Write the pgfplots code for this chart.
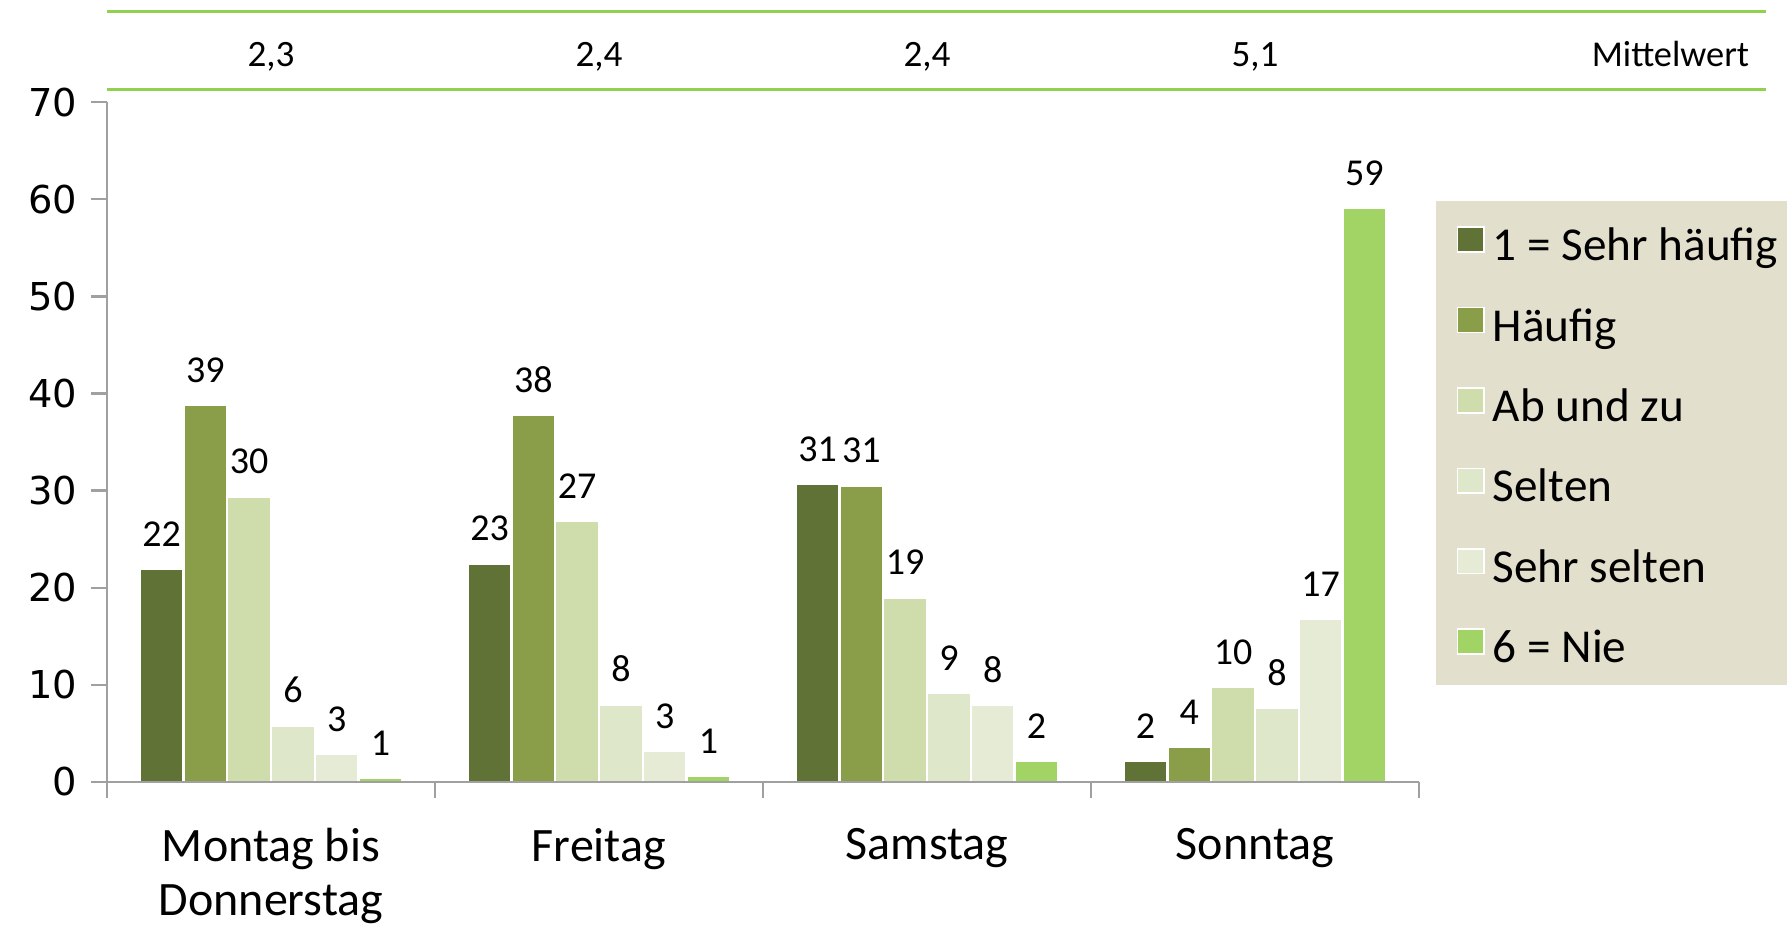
\documentclass[border=0pt]{standalone}
\usepackage{pgfplots}
\pgfplotsset{compat=1.18}
\usepackage{pgfplotstable}
\usepackage{fontspec}
\setmainfont{Carlito}
\newfontfamily\tickfont{DejaVu Sans}
\definecolor{cA}{HTML}{607236}
\definecolor{cB}{HTML}{8A9E4A}
\definecolor{cC}{HTML}{CEDDAB}
\definecolor{cD}{HTML}{DEE7C9}
\definecolor{cE}{HTML}{E5EBD4}
\definecolor{cF}{HTML}{A2D465}
\definecolor{legbg}{HTML}{E2DFCC}
\definecolor{axisgray}{HTML}{A0A0A0}
\definecolor{topgreen}{HTML}{92D050}

\pgfplotstableread{
x y lab
0 21.9 22
1 22.5 23
2 30.7 31
3 2.2 2
}\tA
\pgfplotstableread{
x y lab
0 38.8 39
1 37.8 38
2 30.5 31
3 3.6 4
}\tB
\pgfplotstableread{
x y lab
0 29.4 30
1 26.9 27
2 19.0 19
3 9.8 10
}\tC
\pgfplotstableread{
x y lab
0 5.8 6
1 8.0 8
2 9.2 9
3 7.6 8
}\tD
\pgfplotstableread{
x y lab
0 2.9 3
1 3.2 3
2 7.9 8
3 16.8 17
}\tE
\pgfplotstableread{
x y lab
0 0.4 1
1 0.6 1
2 2.2 2
3 59.1 59
}\tF

\begin{document}
\begin{tikzpicture}
\begin{axis}[
  at={(0,0)}, anchor=south west,
  scale only axis, width=328pt, height=170pt,
  xmin=-0.5, xmax=3.5, ymin=0, ymax=70,
  axis x line*=bottom, axis y line*=left,
  axis line style={draw=axisgray, line width=0.6pt},
  ytick={0,10,...,70},
  tick align=outside,
  major tick length=4pt,
  tick style={draw=axisgray, line width=0.6pt},
  /pgf/number format/assume math mode=true,
  yticklabel style={font=\tickfont\fontsize{9.6}{11}\selectfont},
  xtick={-0.5,0.5,1.5,2.5,3.5}, xticklabels={},
  extra x ticks={0,1,2,3},
  extra x tick labels={{Montag bis\\Donnerstag},Freitag,Samstag,Sonntag},
  extra x tick style={major tick length=0pt, xticklabel style={align=center, font=\fontsize{12}{13.5}\selectfont, anchor=north, yshift=-8pt}},
  ybar=0pt, bar width=0.1335,
  clip=false, axis on top,
  nodes near coords, point meta=explicit symbolic,
  every node near coord/.append style={font=\fontsize{9.5}{10}\selectfont, yshift=2pt, text=black},
  area legend,
  legend image code/.code={\draw[#1, draw=white, line width=0.4pt] (0pt,-2.55pt) rectangle (6.6pt,3.65pt);},
  legend cell align=left,
  legend style={at={(1.0122,0.856)}, anchor=north west, fill=legbg, draw=none,
    inner xsep=5.25pt, inner ysep=4pt, row sep=7.6pt,
    font=\fontsize{11.8}{13}\selectfont,
    nodes={text height=11pt, text depth=1.5pt, inner ysep=0pt}},
]
\addplot[fill=cA, draw=white, line width=0.6pt] table[x=x, y=y, meta=lab] {\tA};
\addlegendentry{1 = Sehr häufig}
\addplot[fill=cB, draw=white, line width=0.6pt] table[x=x, y=y, meta=lab] {\tB};
\addlegendentry{Häufig}
\addplot[fill=cC, draw=white, line width=0.6pt] table[x=x, y=y, meta=lab] {\tC};
\addlegendentry{Ab und zu}
\addplot[fill=cD, draw=white, line width=0.6pt] table[x=x, y=y, meta=lab] {\tD};
\addlegendentry{Selten}
\addplot[fill=cE, draw=white, line width=0.6pt] table[x=x, y=y, meta=lab] {\tE};
\addlegendentry{Sehr selten}
\addplot[fill=cF, draw=white, line width=0.6pt] table[x=x, y=y, meta=lab] {\tF};
\addlegendentry{6 = Nie}

\draw[topgreen, line width=0.75pt] (axis cs:-0.5,79.37) -- (axis cs:4.558,79.37);
\draw[topgreen, line width=0.75pt] (axis cs:-0.5,71.34) -- (axis cs:4.558,71.34);
\node[anchor=base, font=\fontsize{9.3}{10}\selectfont] at (axis cs:0,73.66) {2,3};
\node[anchor=base, font=\fontsize{9.3}{10}\selectfont] at (axis cs:1,73.66) {2,4};
\node[anchor=base, font=\fontsize{9.3}{10}\selectfont] at (axis cs:2,73.66) {2,4};
\node[anchor=base, font=\fontsize{9.3}{10}\selectfont] at (axis cs:3,73.66) {5,1};
\node[anchor=base east, font=\fontsize{9.1}{10}\selectfont, inner sep=0pt] at (axis cs:4.509,73.66) {Mittelwert};
\end{axis}
\pgfresetboundingbox
\path[use as bounding box] (-26.75pt,-35.5pt) rectangle (420pt,195.5pt);
\end{tikzpicture}
\end{document}
